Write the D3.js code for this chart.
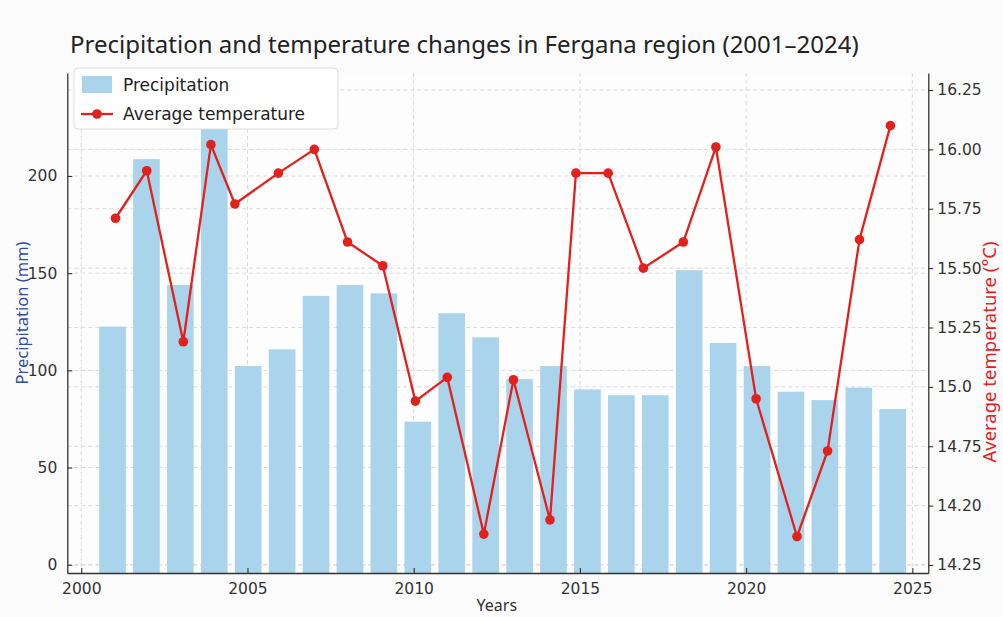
<!DOCTYPE html>
<html>
<head>
<meta charset="utf-8">
<script src="https://cdn.jsdelivr.net/npm/d3@7"></script>
<style>
  body { margin: 0; background: #fbfbfb; }
  svg { display: block; }
  .tick text { font-family: 'DejaVu Sans', sans-serif; font-size: 15.5px; fill: #333; }
  .grid line { stroke: #dadada; stroke-dasharray: 4 3; stroke-width: 1; }
</style>
</head>
<body>
<div class="container"></div>
<script>
var years = d3.range(2001, 2025)

// precipitation, mm
var precip = [122.5, 208.7, 143.9, 224.7, 102.2, 110.8, 138.3, 143.9, 139.6, 73.6, 129.4, 117.0,
  95.5, 102.2, 90.2, 87.2, 87.2, 151.5, 114.1, 102.2, 89.0, 84.7, 91.1, 80.1]

// average temperature
var temp = [15.71, 15.91, 15.19, 16.02, 15.77, 15.90, 16.00, 15.61, 15.51, 14.94, 15.04, 14.38,
  15.03, 14.44, 15.90, 15.90, 15.50, 15.61, 16.01, 14.95, 14.37, 14.73, 15.62, 16.10]

// where each temperature marker sits on the year axis (markers drift off the bars a bit)
var tempPos = [2001.03, 2001.97, 2003.07, 2003.90, 2004.62, 2005.93, 2007.01, 2008.01, 2009.07,
  2010.05, 2011.01, 2012.11, 2013.00, 2014.10, 2014.88, 2015.85, 2016.91, 2018.11, 2019.09,
  2020.30, 2021.53, 2022.45, 2023.41, 2024.34]

var xTicks = [2000, 2005, 2010, 2015, 2020, 2025]
var leftTicks = [0, 50, 100, 150, 200]
var rightTicks = [14.25, 14.5, 14.75, 15.0, 15.25, 15.5, 15.75, 16.0, 16.25]
var rightLabels = ['14.25', '14.20', '14.75', '15.0', '15.25', '15.50', '15.75', '16.00', '16.25']

var title = 'Precipitation and temperature changes in Fergana region (2001\u20132024)'

var W = 1003, H = 617
var margin = {left: 67.3, top: 73, right: 74.7, bottom: 44}
var width = W - margin.left - margin.right
var height = H - margin.top - margin.bottom

var svg = d3.select('.container').append('svg')
  .attr('width', W).attr('height', H)

svg.append('rect').attr('width', W).attr('height', H).attr('fill', '#fbfbfb')

var g = svg.append('g').attr('transform', `translate(${margin.left},${margin.top})`)
g.append('rect').attr('width', width).attr('height', height).attr('fill', '#fdfdfd')

var x = d3.scaleLinear().domain([1999.58, 2025.48]).range([0, width])
var xBand = d3.scaleBand().domain(years)
  .range([x(2000.43), x(2024.92)])
  .paddingInner(0.215).paddingOuter(0.1075)
var yL = d3.scaleLinear().domain([-4.27, 253]).range([height, 0])
var yR = d3.scaleLinear().domain([14.2163, 16.3216]).range([height, 0])

// grid
var grid = g.append('g').attr('class', 'grid')
grid.selectAll('line.v').data(xTicks).join('line')
  .attr('x1', d => x(d)).attr('x2', d => x(d)).attr('y1', 0).attr('y2', height)
grid.selectAll('line.hl').data(leftTicks).join('line')
  .attr('x1', 0).attr('x2', width).attr('y1', d => yL(d)).attr('y2', d => yL(d))
grid.selectAll('line.hr').data(rightTicks).join('line')
  .attr('x1', 0).attr('x2', width).attr('y1', d => yR(d)).attr('y2', d => yR(d))

// bars
g.append('g').selectAll('rect').data(years).join('rect')
  .attr('x', d => xBand(d))
  .attr('width', xBand.bandwidth())
  .attr('y', (d, i) => yL(precip[i]))
  .attr('height', (d, i) => height - yL(precip[i]))
  .attr('fill', '#a9d4eb')

// temperature line
var pts = temp.map((t, i) => [x(tempPos[i]), yR(t)])
g.append('path').datum(pts)
  .attr('d', d3.line())
  .attr('fill', 'none').attr('stroke', '#e2211c').attr('stroke-width', 2.3)
  .attr('stroke-linejoin', 'round')
g.append('g').selectAll('circle').data(pts).join('circle')
  .attr('cx', d => d[0]).attr('cy', d => d[1]).attr('r', 4.8)
  .attr('fill', '#e2211c')

// axes
var xAxis = g.append('g').attr('transform', `translate(0,${height})`)
  .call(d3.axisBottom(x).tickValues(xTicks).tickFormat(d3.format('d')).tickSizeInner(-5).tickSizeOuter(0).tickPadding(10))
var lAxis = g.append('g')
  .call(d3.axisLeft(yL).tickValues(leftTicks).tickSizeInner(-5).tickSizeOuter(0).tickPadding(10))
var rAxis = g.append('g').attr('transform', `translate(${width},0)`)
  .call(d3.axisRight(yR).tickValues(rightTicks).tickFormat((d, i) => rightLabels[i]).tickSizeInner(5).tickSizeOuter(0).tickPadding(4))

;[xAxis, lAxis, rAxis].forEach(a => {
  a.select('.domain').attr('stroke', '#333').attr('stroke-width', 1.3)
  a.selectAll('.tick line').attr('stroke', '#333').attr('stroke-width', 1.1)
})

// titles
svg.append('text').text(title)
  .attr('x', 70).attr('y', 53)
  .style('font-family', "'Noto Sans', sans-serif").style('font-size', '24px').attr('fill', '#222')

svg.append('text').text('Years')
  .attr('x', margin.left + x(2012.5)).attr('y', 611).attr('text-anchor', 'middle')
  .style('font-family', "'Noto Sans', sans-serif").style('font-size', '16px').attr('fill', '#333')

svg.append('text').text('Precipitation (mm)')
  .attr('transform', 'translate(28,313) rotate(-90)').attr('text-anchor', 'middle')
  .style('font-family', "'Noto Sans', sans-serif").style('font-size', '16.5px').attr('fill', '#2d4f9e')

svg.append('text').text('Average temperature (\u00b0C)')
  .attr('transform', 'translate(996,352) rotate(-90)').attr('text-anchor', 'middle')
  .style('font-family', "'Noto Sans', sans-serif").style('font-size', '18.5px').attr('fill', '#e2211c')

// legend
var leg = svg.append('g').attr('transform', 'translate(74,68)')
leg.append('rect').attr('width', 264).attr('height', 61).attr('rx', 4)
  .attr('fill', '#fff').attr('stroke', '#dcdcdc')
leg.append('rect').attr('x', 8).attr('y', 8).attr('width', 30).attr('height', 17).attr('fill', '#a9d4eb')
leg.append('line').attr('x1', 7).attr('x2', 39).attr('y1', 46).attr('y2', 46)
  .attr('stroke', '#e2211c').attr('stroke-width', 2.3)
leg.append('circle').attr('cx', 23).attr('cy', 46).attr('r', 4.8).attr('fill', '#e2211c')
leg.selectAll('text.l').data(['Precipitation', 'Average temperature']).join('text')
  .text(d => d)
  .attr('x', 49).attr('y', (d, i) => 17 + i * 29).attr('dy', '0.35em')
  .style('font-family', "'DejaVu Sans', sans-serif").style('font-size', '17px').attr('fill', '#222')
</script>
</body>
</html>
